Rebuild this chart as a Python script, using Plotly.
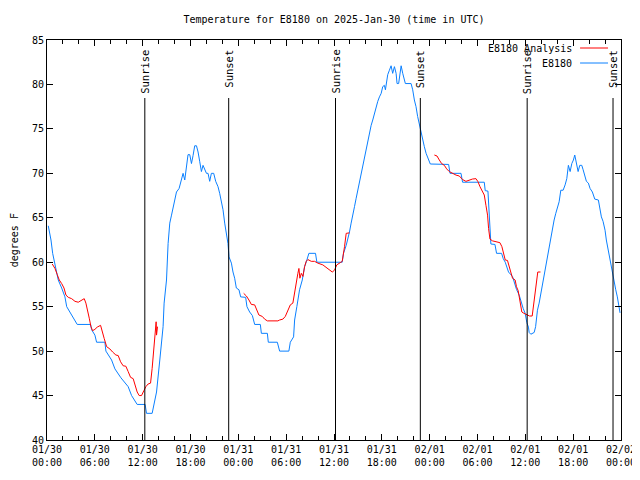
import pandas as pd
import plotly.graph_objects as go

BASE = pd.Timestamp("2025-01-30 00:00")

# E8180 observations: hours since 2025-01-30 00:00 UTC, temperature (F)
obs_hours = [0.16, 0.50, 0.71, 1.00, 1.41, 1.84, 2.25, 2.47, 3.17, 3.79, 5.47, 5.60, 6.01, 6.22, 7.26, 7.39,
             8.10, 8.52, 9.27, 10.18, 10.61, 11.31, 12.31, 12.48, 13.19, 13.52, 13.74, 14.15, 14.56, 14.69,
             14.99, 15.19, 15.40, 15.62, 15.82, 16.03, 16.24, 16.57, 16.87, 17.07, 17.28, 17.49, 17.69, 17.91,
             18.12, 18.32, 18.53, 18.75, 18.95, 19.16, 19.37, 19.57, 19.78, 20.00, 20.20, 20.41, 20.62, 20.91,
             21.16, 21.45, 21.66, 21.87, 22.08, 22.29, 22.50, 22.70, 22.83, 23.13, 23.33, 23.54, 23.75, 24.08,
             24.29, 24.92, 25.08, 25.42, 25.76, 26.05, 26.76, 26.89, 27.64, 27.76, 28.89, 29.18, 30.34, 30.52,
             30.93, 31.06, 31.34, 31.68, 32.02, 32.31, 32.60, 32.85, 33.68, 33.85, 37.03, 37.19, 37.53, 37.73,
             37.94, 38.15, 38.36, 38.57, 38.78, 38.98, 39.19, 39.41, 39.61, 39.82, 40.03, 40.23, 40.45, 40.66,
             40.86, 41.07, 41.29, 41.49, 41.70, 41.92, 42.11, 42.32, 42.45, 42.54, 42.74, 42.95, 43.16, 43.36,
             43.58, 43.79, 43.91, 44.11, 44.29, 44.42, 44.62, 44.95, 45.67, 45.87, 46.08, 46.29, 46.49, 46.71,
             46.92, 47.12, 47.33, 47.55, 47.77, 48.08, 50.38, 50.55, 51.93, 52.13, 54.85, 54.97, 55.31, 55.47,
             55.56, 55.68, 56.19, 56.39, 57.02, 57.23, 57.48, 57.89, 58.39, 58.60, 58.89, 59.23, 59.44, 59.73,
             59.98, 60.19, 60.39, 60.48, 60.69, 61.11, 61.29, 61.52, 61.73, 61.95, 62.15, 62.36, 62.57, 62.77,
             62.99, 63.20, 63.40, 63.61, 63.82, 64.03, 64.24, 64.45, 64.74, 64.99, 65.20, 65.40, 65.62, 65.83,
             66.03, 66.20, 66.40, 66.62, 66.83, 67.08, 67.25, 67.46, 67.66, 67.91, 68.12, 68.41, 68.71, 69.16,
             69.34, 69.54, 69.75, 70.00, 70.16, 70.38, 70.59, 70.75, 70.92, 71.13, 71.34, 71.54, 71.75, 71.88]
obs_temps = [64.1, 62.5, 61.0, 59.9, 58.0, 57.1, 56.1, 55.0, 54.0, 53.0, 53.0, 52.4, 51.8, 51.0, 51.0, 50.0,
             49.0, 48.0, 47.0, 46.0, 45.0, 44.0, 44.0, 43.0, 43.0, 44.5, 45.4, 49.0, 52.75, 55.4,
             58.0, 62.1, 64.4, 65.3, 66.25, 67.2, 67.9, 68.3, 69.25, 70.0, 69.25, 71.1, 72.1, 72.1,
             71.1, 72.0, 73.1, 73.1, 72.4, 71.3, 70.2, 70.9, 70.4, 70.0, 70.0, 69.1, 70.0, 70.0,
             69.1, 68.5, 67.75, 66.8, 65.9, 64.4, 63.25, 62.1, 60.6, 59.9, 58.9, 58.2, 57.1, 56.9,
             56.1, 56.05, 55.0, 54.4, 54.0, 53.0, 53.0, 52.0, 52.0, 51.0, 51.0, 50.0, 50.0, 51.0,
             51.6, 53.5, 55.0, 56.9, 58.0, 59.5, 60.25, 61.0, 61.0, 60.0, 60.0, 61.0, 61.9, 62.5,
             63.4, 64.4, 65.5, 66.25, 67.2, 68.1, 68.9, 70.0, 70.9, 71.9, 73.0, 73.75, 74.7, 75.4,
             76.0, 76.75, 77.5, 78.1, 78.6, 79.0, 79.75, 79.9, 79.4, 80.1, 81.1, 81.6, 82.1, 81.25,
             82.0, 81.25, 80.1, 80.1, 81.6, 82.1, 81.25, 80.1, 80.1, 79.4, 78.25, 77.5, 76.4, 75.4,
             74.5, 73.75, 73.0, 72.25, 71.7, 71.05, 71.0, 70.0, 70.0, 69.0, 69.0, 68.05, 68.0, 64.75,
             62.6, 62.05, 62.0, 61.0, 61.0, 60.4, 60.0, 58.9, 58.4, 57.8, 56.95, 56.3, 55.6, 54.8,
             54.25, 53.2, 52.7, 52.1, 51.9, 52.1, 52.75, 54.6, 55.4, 56.5, 57.6, 58.4, 59.3, 60.4,
             61.6, 62.9, 63.8, 64.75, 65.5, 66.1, 66.8, 68.1, 68.1, 68.7, 69.4, 70.9, 70.2, 71.1,
             71.5, 72.06, 71.3, 70.2, 70.9, 70.9, 70.4, 69.8, 69.1, 68.9, 68.3, 67.9, 67.1, 67.0,
             66.1, 65.1, 64.6, 63.6, 62.5, 61.4, 60.8, 59.9, 58.9, 58.0, 56.9, 56.1, 55.2, 54.3]

# E8180 analysis: three nightly segments
ana1_hours = [0.66, 1.00, 1.29, 1.54, 1.84, 2.13, 2.38, 2.67, 3.09, 3.51, 3.92, 4.35, 4.67, 4.88, 5.10, 5.30,
              5.51, 5.72, 6.01, 6.30, 6.72, 6.97, 7.18, 7.48, 7.89, 8.23, 8.64, 8.93, 9.23, 9.55, 9.89, 10.18,
              10.48, 10.81, 11.02, 11.31, 11.56, 11.86, 12.15, 12.40, 12.68, 12.99, 13.19, 13.31, 13.44, 13.61,
              13.69, 13.74, 13.86]
ana1_temps = [59.8, 59.3, 58.6, 58.0, 57.6, 57.1, 56.3, 56.05, 55.9, 55.6, 55.5, 55.75, 55.9, 55.4, 54.6, 53.7,
              52.75, 52.3, 52.45, 52.7, 52.9, 52.2, 51.4, 50.5, 50.24, 49.9, 49.56, 49.5, 48.8, 48.35, 48.3, 47.7,
              47.05, 46.9, 46.3, 45.4, 45.0, 45.0, 45.55, 46.0, 46.3, 46.4, 48.06, 49.4, 51.4, 52.75,
              53.3, 51.8, 52.75]
ana2_hours = [24.67, 25.01, 25.33, 25.63, 26.05, 26.34, 26.58, 27.01, 27.30, 27.64, 28.96, 29.18, 29.59, 29.89,
              30.22, 30.52, 30.84, 31.06, 31.27, 31.47, 31.60, 31.72, 31.90, 32.10, 32.31, 32.52, 32.72, 33.15,
              33.56, 33.97, 34.60, 35.22, 35.78, 36.06, 36.35, 36.78, 37.03, 37.32, 37.53, 37.94]
ana2_temps = [56.5, 56.2, 55.75, 55.25, 55.2, 54.6, 54.06, 53.9, 53.6, 53.4, 53.4, 53.5, 53.6, 53.9,
              54.6, 55.2, 55.4, 56.7, 57.4, 58.75, 59.3, 58.2, 58.75, 58.4, 59.5, 60.1, 60.3, 60.1,
              60.1, 59.9, 59.7, 59.3, 58.9, 59.1, 59.7, 59.95, 60.1, 61.75, 63.25, 63.3]
ana3_hours = [48.59, 48.92, 49.21, 49.50, 49.84, 50.13, 50.46, 50.88, 51.31, 51.72, 52.13, 52.55, 52.97, 53.38,
              53.81, 54.06, 54.31, 54.56, 54.85, 55.06, 55.26, 55.39, 55.56, 55.89, 56.31, 56.81, 57.06, 57.26,
              57.48, 57.76, 58.00, 58.21, 58.39, 58.72, 58.89, 59.10, 59.31, 59.56, 59.83, 60.24, 60.53, 60.86,
              61.06, 61.28, 61.40, 61.56, 61.90]
ana3_temps = [72.06, 71.95, 71.5, 71.1, 70.9, 70.5, 70.2, 70.0, 69.8, 69.7, 69.3, 69.1, 69.25, 69.36,
              69.4, 69.06, 68.5, 68.05, 67.56, 66.4, 65.3, 63.8, 62.6, 62.4, 62.3, 62.2, 61.75, 61.0,
              60.25, 60.2, 59.5, 58.9, 58.2, 58.0, 57.25, 56.8, 55.6, 54.4, 54.25, 54.1, 53.95, 53.95,
              55.4, 56.9, 58.4, 58.9, 58.9]

sunrise_hours = [12.27, 36.19, 60.23]
sunset_hours = [22.79, 46.83, 71.0]

y_ticks = [40, 45, 50, 55, 60, 65, 70, 75, 80, 85]

FONT = "DejaVu Sans Mono"
RED = "#ff0000"
BLUE = "#0a80ff"


def to_time(hours):
    return list(BASE + pd.to_timedelta(hours, unit="h"))


ana_x, ana_y = [], []
for hs, ts in [(ana1_hours, ana1_temps), (ana2_hours, ana2_temps), (ana3_hours, ana3_temps)]:
    if ana_x:
        ana_x.append(None)
        ana_y.append(None)
    ana_x += to_time(hs)
    ana_y += ts

fig = go.Figure()
fig.add_trace(go.Scatter(x=to_time(obs_hours), y=obs_temps, mode="lines",
                         line=dict(color=BLUE, width=1), name="E8180"))
fig.add_trace(go.Scatter(x=ana_x, y=ana_y, mode="lines", connectgaps=False,
                         line=dict(color=RED, width=1), name="E8180 Analysis"))

shapes = []
annotations = []
for label, hrs in [("Sunrise", sunrise_hours), ("Sunset", sunset_hours)]:
    for t in to_time(hrs):
        shapes.append(dict(type="line", xref="x", yref="paper", x0=t, x1=t, y0=0, y1=0.855,
                           line=dict(color="black", width=1)))
        annotations.append(dict(x=t, y=0.98, xref="x", yref="paper", text=label, showarrow=False,
                                textangle=-90, xanchor="center", yanchor="top",
                                font=dict(family=FONT, size=10.5, color="black")))

# legend (gnuplot style: text then sample line)
for row_y, name, col in [(0.98, "E8180 Analysis", RED), (0.9425, "E8180", BLUE)]:
    annotations.append(dict(x=0.918, y=row_y, xref="paper", yref="paper", text=name, showarrow=False,
                            xanchor="right", yanchor="middle",
                            font=dict(family=FONT, size=10, color="black")))
    shapes.append(dict(type="line", xref="paper", yref="paper", x0=0.9287, x1=0.9774,
                       y0=row_y, y1=row_y, line=dict(color=col, width=1)))

annotations.append(dict(x=-0.057, y=0.5, xref="paper", yref="paper", text="degrees F", showarrow=False,
                        textangle=-90, xanchor="center", yanchor="middle",
                        font=dict(family=FONT, size=10, color="black")))

fig.update_layout(
    width=640, height=480,
    margin=dict(l=39, r=18, t=32, b=48),
    paper_bgcolor="white", plot_bgcolor="white",
    showlegend=False,
    title=dict(text="Temperature for E8180 on 2025-Jan-30 (time in UTC)", x=0.5, xref="paper",
               y=1 - 11 / 480, yref="container", yanchor="middle", xanchor="center",
               font=dict(family=FONT, size=10, color="black")),
    shapes=shapes,
    annotations=annotations,
    xaxis=dict(type="date", range=[BASE, BASE + pd.Timedelta(hours=72)],
               tick0=BASE, dtick=6 * 3600 * 1000, tickformat="%m/%d<br>%H:%M",
               ticks="inside", ticklen=6, tickcolor="black",
               minor=dict(dtick=2 * 3600 * 1000, ticks="inside", ticklen=4, tickcolor="black"),
               showline=True, linecolor="black", linewidth=1, mirror="allticks",
               showgrid=False, zeroline=False,
               tickfont=dict(family=FONT, size=10, color="black")),
    yaxis=dict(range=[40, 85], tickvals=y_ticks, ticks="inside", ticklen=6, tickcolor="black",
               showline=True, linecolor="black", linewidth=1, mirror="allticks",
               showgrid=False, zeroline=False,
               tickfont=dict(family=FONT, size=10, color="black")),
)

fig.write_html("out.html")
